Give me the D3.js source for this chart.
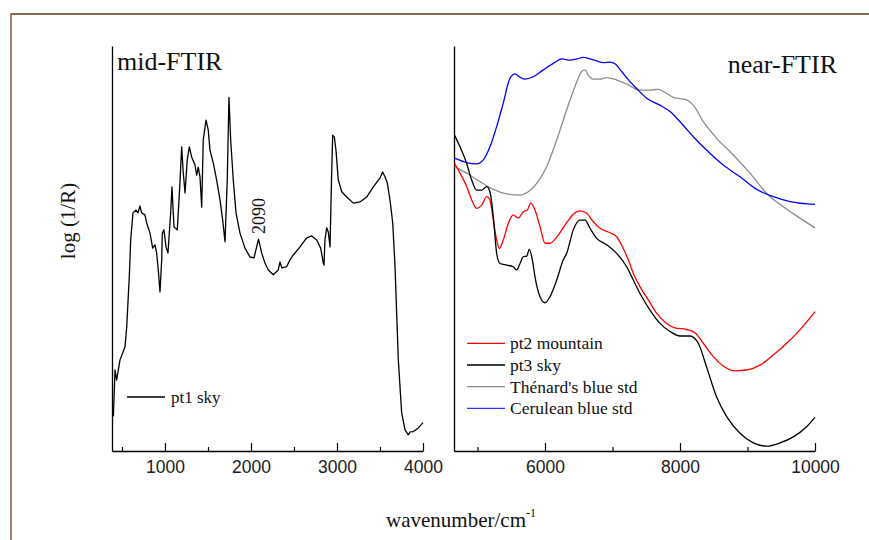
<!DOCTYPE html>
<html><head><meta charset="utf-8">
<script src="https://cdn.jsdelivr.net/npm/d3@7"></script>
<style>
html,body{margin:0;padding:0;background:#fff;}
svg{display:block;}
.tick text{font-family:"Liberation Sans",Arial,sans-serif;font-size:17.5px;fill:#1a1a1a;}
.serif{font-family:"Liberation Serif","Times New Roman",serif;fill:#111;}
</style></head>
<body>
<svg id="c" width="869" height="540"></svg>
<script>
// ---------- DATA ----------
const midTicks = [1000, 2000, 3000, 4000];
const midMinor = [500, 1500, 2500, 3500];
const nearTicks = [6000, 8000, 10000];
const nearMinor = [5000, 7000, 9000];

// mid-FTIR, pt1 sky
const midWn = [400,419,438,477,535,555,585,593,601,628,663,686,709,729,767,787,826,857,884,903,922,942,962,969,988,1012,1035,1066,1081,1105,1143,1174,1194,1213,1233,1259,1283,1310,1349,1369,1387,1407,1427,1445,1477,1503,1523,1562,1601,1640,1671,1698,1724,1744,1764,1794,1826,1872,1930,1988,2035,2066,2087,2124,2163,2201,2259,2317,2337,2360,2415,2453,2492,2570,2648,2706,2764,2810,2841,2849,2860,2880,2899,2919,2938,2950,2969,2988,3015,3055,3113,3190,3267,3345,3422,3500,3531,3558,3585,3616,3648,3674,3713,3752,3791,3829,3849,3888,3946,4000];
const midPt1 = [0.085,0.200,0.175,0.225,0.257,0.306,0.430,0.472,0.521,0.588,0.595,0.588,0.605,0.588,0.583,0.563,0.538,0.501,0.509,0.489,0.447,0.393,0.472,0.538,0.546,0.504,0.489,0.588,0.652,0.553,0.546,0.662,0.751,0.686,0.637,0.719,0.751,0.726,0.706,0.681,0.701,0.677,0.602,0.768,0.817,0.793,0.743,0.711,0.669,0.620,0.570,0.517,0.669,0.873,0.768,0.669,0.588,0.538,0.501,0.479,0.477,0.504,0.523,0.489,0.464,0.447,0.435,0.447,0.467,0.452,0.455,0.472,0.484,0.504,0.526,0.531,0.521,0.501,0.464,0.459,0.521,0.551,0.541,0.504,0.686,0.780,0.775,0.743,0.669,0.640,0.627,0.612,0.615,0.627,0.652,0.674,0.689,0.677,0.662,0.620,0.563,0.459,0.225,0.094,0.052,0.040,0.047,0.048,0.057,0.070];

// near-FTIR
const ceruleanWn = [4660,4840,4988,5086,5185,5284,5382,5481,5556,5630,5704,5827,5975,6123,6247,6370,6470,6567,6667,6766,6864,6963,7037,7136,7259,7382,7507,7704,7852,8000,8197,8393,8641,8889,9136,9382,9630,10000];
const ceruleanStd = [0.723,0.712,0.709,0.719,0.751,0.801,0.859,0.920,0.931,0.923,0.918,0.924,0.941,0.957,0.968,0.965,0.968,0.972,0.968,0.963,0.959,0.960,0.956,0.937,0.912,0.891,0.871,0.854,0.838,0.813,0.776,0.743,0.706,0.677,0.646,0.628,0.616,0.609];

const thenardWn = [4660,4840,5037,5234,5433,5630,5753,5877,6025,6173,6321,6444,6544,6593,6641,6716,6815,6914,7062,7210,7407,7556,7679,7803,7901,8099,8197,8345,8544,8790,9037,9284,9530,9778,10000];
const thenardStd = [0.702,0.686,0.665,0.646,0.635,0.632,0.640,0.661,0.702,0.768,0.842,0.900,0.937,0.941,0.928,0.918,0.918,0.922,0.916,0.906,0.891,0.891,0.893,0.883,0.873,0.867,0.854,0.813,0.772,0.731,0.686,0.636,0.603,0.575,0.551];

const pt2Wn = [4660,4741,4840,4914,4988,5062,5136,5185,5234,5284,5323,5382,5456,5530,5604,5679,5738,5788,5852,5926,6000,6074,6197,6321,6444,6519,6618,6716,6815,6963,7062,7160,7234,7308,7407,7530,7655,7803,7926,8099,8222,8345,8493,8641,8815,8988,9185,9382,9581,9778,10000];
const pt2Mountain = [0.710,0.686,0.653,0.620,0.599,0.607,0.628,0.620,0.570,0.521,0.500,0.521,0.562,0.583,0.575,0.591,0.595,0.612,0.595,0.554,0.513,0.513,0.533,0.564,0.588,0.593,0.587,0.566,0.550,0.539,0.529,0.500,0.472,0.439,0.406,0.373,0.340,0.315,0.304,0.300,0.292,0.266,0.233,0.210,0.198,0.200,0.212,0.237,0.266,0.299,0.344];

const pt3Wn = [4660,4741,4840,4914,4988,5062,5136,5185,5234,5284,5333,5433,5530,5581,5630,5679,5729,5767,5818,5852,5926,6000,6074,6173,6271,6321,6419,6519,6593,6667,6766,6914,7062,7210,7259,7407,7556,7704,7852,8000,8148,8271,8393,8541,8692,8889,9086,9284,9481,9679,9876,10000];
const pt3Sky = [0.780,0.751,0.710,0.669,0.644,0.644,0.653,0.640,0.579,0.488,0.463,0.459,0.455,0.447,0.463,0.480,0.481,0.498,0.467,0.430,0.381,0.366,0.381,0.422,0.472,0.488,0.546,0.570,0.570,0.550,0.525,0.509,0.488,0.455,0.439,0.389,0.348,0.315,0.295,0.284,0.284,0.266,0.208,0.134,0.085,0.044,0.020,0.012,0.020,0.035,0.060,0.083];

const legendNames = ["pt2 mountain", "pt3 sky", "Thénard's blue std", "Cerulean blue std"];
const legendColors = ["#ff0000", "#000000", "#8c8c8c", "#3333ff"];

// ---------- DRAW ----------
const svg = d3.select("#c");

// frame
svg.append("path").attr("d","M11,540 L11,14 L869,14")
  .attr("fill","none").attr("stroke","#6e3a1c").attr("stroke-width",1.3);

const y = d3.scaleLinear().domain([0,1]).range([451,46]);
const xMid = d3.scaleLinear().domain([384,4000]).range([112,423]);
const xNear = d3.scaleLinear().domain([4652,10000]).range([454,815]);

function drawAxes(x, major, minor, left) {
  const gx = svg.append("g").attr("transform","translate(0,451)");
  gx.call(d3.axisBottom(x).tickValues(major).tickSizeInner(-8).tickSizeOuter(0).tickPadding(10).tickFormat(d3.format("d")));
  gx.select(".domain").attr("stroke","#000").attr("stroke-width",1.3);
  gx.selectAll(".tick line").attr("stroke","#000").attr("stroke-width",1.2);
  const gm = svg.append("g").attr("transform","translate(0,451)");
  gm.call(d3.axisBottom(x).tickValues(minor).tickSizeInner(-4).tickSizeOuter(0).tickFormat(""));
  gm.select(".domain").remove();
  gm.selectAll(".tick line").attr("stroke","#000").attr("stroke-width",1.2);
  const gy = svg.append("g").attr("transform",`translate(${left},0)`);
  gy.call(d3.axisLeft(y).tickValues([]).tickSizeOuter(0));
  gy.select(".domain").attr("stroke","#000").attr("stroke-width",1.3);
}
drawAxes(xMid, midTicks, midMinor, 112);
drawAxes(xNear, nearTicks, nearMinor, 454);

function drawLine(x, xs, ys, color, curve) {
  const pts = xs.map((d,i)=>[d, ys[i]]);
  svg.append("path").datum(pts)
    .attr("fill","none").attr("stroke",color).attr("stroke-width",1.3)
    .attr("stroke-linejoin","round")
    .attr("d", d3.line().curve(curve).x(d=>x(d[0])).y(d=>y(d[1])));
}
drawLine(xMid, midWn, midPt1, "#000", d3.curveLinear);
drawLine(xNear, thenardWn, thenardStd, "#8c8c8c", d3.curveMonotoneX);
drawLine(xNear, ceruleanWn, ceruleanStd, "#0000ff", d3.curveMonotoneX);
drawLine(xNear, pt2Wn, pt2Mountain, "#ff0000", d3.curveMonotoneX);
drawLine(xNear, pt3Wn, pt3Sky, "#000", d3.curveMonotoneX);

// titles
svg.append("text").attr("class","serif").attr("x",117).attr("y",70).attr("font-size",26).text("mid-FTIR");
svg.append("text").attr("class","serif").attr("x",837).attr("y",73).attr("text-anchor","end").attr("font-size",26).text("near-FTIR");

// annotation 2090
svg.append("text").attr("class","serif").attr("font-size",18)
  .attr("text-anchor","middle")
  .attr("transform",`translate(${xMid(2090)+6},216) rotate(-90)`).text("2090");

// legends
svg.append("line").attr("x1",127).attr("x2",165).attr("y1",397).attr("y2",397).attr("stroke","#000").attr("stroke-width",1.3);
svg.append("text").attr("class","serif").attr("x",171).attr("y",403).attr("font-size",17).text("pt1 sky");

legendNames.forEach((n,i)=>{
  const yy = 343.3 + i*21.7;
  svg.append("line").attr("x1",467).attr("x2",505).attr("y1",yy).attr("y2",yy).attr("stroke",legendColors[i]).attr("stroke-width",1.3);
  svg.append("text").attr("class","serif").attr("x",510).attr("y",yy+6).attr("font-size",17.5).text(n);
});

// axis labels
const xl = svg.append("text").attr("class","serif").attr("x",461).attr("y",527).attr("text-anchor","middle").attr("font-size",21);
xl.append("tspan").text("wavenumber/cm");
xl.append("tspan").attr("dy",-10).attr("font-size",12).text("-1");

svg.append("text").attr("class","serif").attr("font-size",21).attr("text-anchor","middle")
  .attr("transform","translate(75,221) rotate(-90)").text("log (1/R)");
</script>
</body></html>
